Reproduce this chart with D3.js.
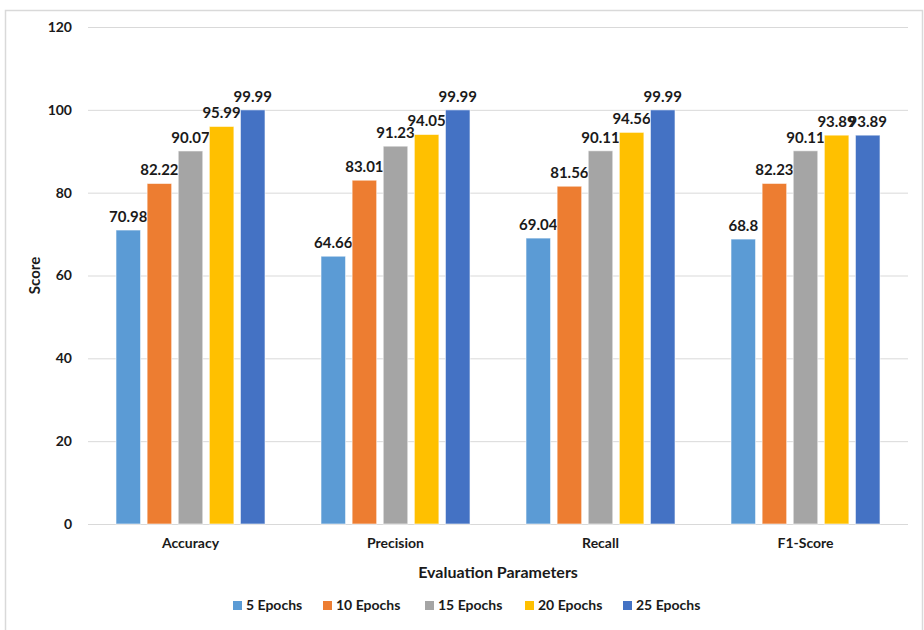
<!DOCTYPE html>
<html>
<head>
<meta charset="utf-8">
<script src="https://cdn.jsdelivr.net/npm/d3@7"></script>
<style>
  body { margin: 0; background: #fff; }
  svg { font-family: Lato, "Open Sans", sans-serif; font-weight: bold; }
</style>
</head>
<body>
<svg id="chart" width="924" height="630"></svg>
<script>
// chart data
const categories = ["Accuracy", "Precision", "Recall", "F1-Score"];
const seriesNames = ["5 Epochs", "10 Epochs", "15 Epochs", "20 Epochs", "25 Epochs"];
const seriesColors = ["#5B9BD5", "#ED7D31", "#A5A5A5", "#FFC000", "#4472C4"];
const epochs5 = [70.98, 64.66, 69.04, 68.8];
const epochs10 = [82.22, 83.01, 81.56, 82.23];
const epochs15 = [90.07, 91.23, 90.11, 90.11];
const epochs20 = [95.99, 94.05, 94.56, 93.89];
const epochs25 = [99.99, 99.99, 99.99, 93.89];
const yTicks = [0, 20, 40, 60, 80, 100, 120];

const seriesValues = [epochs5, epochs10, epochs15, epochs20, epochs25];

const svg = d3.select("#chart");
const margin = { left: 88, right: 16, top: 27, bottom: 106 };
const width = 924 - margin.left - margin.right;
const height = 630 - margin.top - margin.bottom;

// outer frame
svg.append("rect")
    .attr("x", 5.5).attr("y", 10.5)
    .attr("width", 917).attr("height", 640)
    .attr("fill", "none")
    .attr("stroke", "#D9D9D9")
    .attr("stroke-width", 1.5);

const g = svg.append("g")
    .attr("transform", `translate(${margin.left},${margin.top})`);

const x0 = d3.scaleBand().domain(categories).range([0, width]);
const x1 = d3.scaleBand().domain(seriesNames)
    .range([0, x0.bandwidth()])
    .paddingInner(0.21)
    .paddingOuter(0.9);
const y = d3.scaleLinear().domain([0, 120]).range([height, 0]);

// gridlines
g.append("g")
    .selectAll("line")
    .data(yTicks)
    .join("line")
    .attr("x1", 0).attr("x2", width)
    .attr("y1", d => y(d) + 0.5).attr("y2", d => y(d) + 0.5)
    .attr("stroke", "#D9D9D9")
    .attr("stroke-width", 1);

// y axis labels
const yAxis = g.append("g")
    .call(d3.axisLeft(y).tickValues(yTicks).tickSize(0).tickPadding(16));
yAxis.select(".domain").remove();
yAxis.selectAll("text")
    .attr("font-family", "Lato, 'Open Sans', sans-serif")
    .attr("font-weight", "bold")
    .attr("font-size", "14px")
    .attr("fill", "#1a1a1a");

// x axis labels
const xAxis = g.append("g")
    .attr("transform", `translate(0,${height})`)
    .call(d3.axisBottom(x0).tickSize(0).tickPadding(14));
xAxis.select(".domain").remove();
xAxis.selectAll("text")
    .attr("font-family", "Lato, 'Open Sans', sans-serif")
    .attr("font-weight", "bold")
    .attr("font-size", "14px")
    .attr("fill", "#1a1a1a");

// bars
const groups = g.append("g")
    .selectAll("g")
    .data(categories)
    .join("g")
    .attr("transform", d => `translate(${x0(d)},0)`);

const cells = groups.selectAll("g")
    .data((c, ci) => seriesNames.map((s, si) => ({ series: s, si, value: seriesValues[si][ci] })))
    .join("g");

cells.append("rect")
    .attr("x", d => x1(d.series))
    .attr("y", d => y(d.value))
    .attr("width", x1.bandwidth())
    .attr("height", d => height - y(d.value))
    .attr("fill", d => seriesColors[d.si])
    .attr("stroke", "#fff")
    .attr("stroke-opacity", 0.6)
    .attr("stroke-width", 1);

// data labels
cells.append("text")
    .attr("x", d => x1(d.series) + x1.bandwidth() / 2)
    .attr("y", d => y(d.value) - 8)
    .attr("text-anchor", "middle")
    .attr("font-size", "15px")
    .attr("fill", "#1a1a1a")
    .text(d => d.value);

// axis titles
svg.append("text")
    .attr("transform", `translate(40,${margin.top + height / 2}) rotate(-90)`)
    .attr("text-anchor", "middle")
    .attr("font-size", "15px")
    .attr("fill", "#1a1a1a")
    .text("Score");

svg.append("text")
    .attr("x", margin.left + width / 2)
    .attr("y", 578)
    .attr("text-anchor", "middle")
    .attr("font-size", "16px")
    .attr("fill", "#1a1a1a")
    .text("Evaluation Parameters");

// legend
const legendX = [233, 323, 425, 525, 623];
const legend = svg.append("g")
    .selectAll("g")
    .data(seriesNames)
    .join("g")
    .attr("transform", (d, i) => `translate(${legendX[i]},610)`);

legend.append("rect")
    .attr("x", 0).attr("y", -9)
    .attr("width", 9).attr("height", 9)
    .attr("fill", (d, i) => seriesColors[i]);

legend.append("text")
    .attr("x", 13)
    .attr("y", 0)
    .attr("font-size", "14px")
    .attr("fill", "#1a1a1a")
    .text(d => d);
</script>
</body>
</html>
